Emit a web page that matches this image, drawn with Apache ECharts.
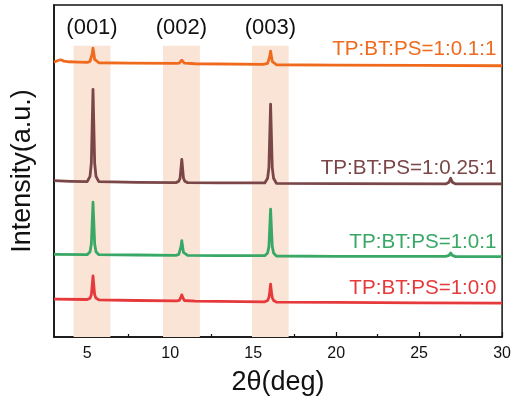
<!DOCTYPE html>
<html>
<head>
<meta charset="utf-8">
<script src="https://cdn.jsdelivr.net/npm/echarts@6/dist/echarts.min.js"></script>
<style>
  html, body { margin: 0; padding: 0; background: #fff; }
  #chart { width: 514px; height: 402px; }
</style>
</head>
<body>
<div id="chart"></div>
<script>
// XRD patterns (2θ in degrees, intensity in arbitrary offset units)
const seriesNames = ['TP:BT:PS=1:0.1:1', 'TP:BT:PS=1:0.25:1', 'TP:BT:PS=1:0:1', 'TP:BT:PS=1:0:0'];
const seriesColors = ['#f06a1e', '#7a4648', '#39a866', '#e6393c'];

const pattern01_1 = [
  [3.0, 82.8], [3.2, 83.2], [3.4, 83.5], [3.6, 83.1], [3.9, 82.9], [4.5, 82.8],
  [5.0, 82.7], [5.17, 83.0], [5.25, 83.6], [5.30, 85.3], [5.35, 87.0], [5.40, 85.3], [5.45, 83.6], [5.53, 83.0], [5.7, 82.6],
  [7.5, 82.5], [10.4, 82.4],
  [10.55, 82.5], [10.65, 83.1], [10.7, 83.4], [10.75, 83.1], [10.85, 82.5],
  [11.5, 82.3], [15.6, 82.1],
  [15.7, 82.1], [15.87, 82.4], [15.95, 83.0], [16.0, 84.5], [16.05, 86.1], [16.10, 84.5], [16.15, 83.0], [16.23, 82.4], [16.4, 82.0],
  [20, 81.9], [25, 81.8], [30, 81.7]
];

const pattern025_1 = [
  [3.0, 47.1], [4.0, 46.9], [5.0, 46.8],
  [5.17, 48.4], [5.25, 52.4], [5.30, 63.5], [5.35, 74.6], [5.40, 63.5], [5.45, 52.4], [5.53, 48.4], [5.7, 46.8],
  [8, 46.6], [10.35, 46.5],
  [10.52, 46.9], [10.6, 47.9], [10.65, 50.7], [10.7, 53.5], [10.75, 50.7], [10.8, 47.9], [10.88, 46.9], [11.05, 46.5],
  [13, 46.4], [15.7, 46.4],
  [15.87, 47.8], [15.95, 51.1], [16.0, 60.6], [16.05, 70.1], [16.1, 60.6], [16.15, 51.1], [16.23, 47.8], [16.4, 46.3],
  [20, 46.2], [26.6, 46.1], [26.8, 46.6], [26.9, 47.8], [27.0, 46.6], [27.2, 46.1], [30, 46.1]
];

const pattern0_1 = [
  [3.0, 24.9], [5.0, 24.8],
  [5.17, 25.7], [5.25, 28.0], [5.30, 34.3], [5.35, 40.6], [5.40, 34.3], [5.45, 28.0], [5.53, 25.7], [5.7, 24.8],
  [8, 24.7], [10.35, 24.6],
  [10.52, 24.9], [10.6, 25.5], [10.65, 27.2], [10.7, 29.0], [10.75, 27.2], [10.8, 25.5], [10.88, 24.9], [11.05, 24.6],
  [13, 24.5], [15.7, 24.5],
  [15.87, 25.3], [15.95, 27.3], [16.0, 32.9], [16.05, 38.5], [16.1, 32.9], [16.15, 27.3], [16.23, 25.3], [16.4, 24.4],
  [20, 24.3], [26.6, 24.3], [26.8, 24.6], [26.9, 25.3], [27.0, 24.6], [27.2, 24.2], [30, 24.2]
];

const pattern0_0 = [
  [3.0, 11.4], [5.0, 11.3],
  [5.17, 11.7], [5.25, 12.7], [5.30, 15.5], [5.35, 18.4], [5.40, 15.5], [5.45, 12.7], [5.53, 11.7], [5.7, 11.2],
  [8, 11.0], [10.4, 10.9],
  [10.55, 11.0], [10.65, 12.0], [10.7, 12.7], [10.75, 12.0], [10.85, 11.0], [11.5, 10.8],
  [15.7, 10.6],
  [15.87, 11.0], [15.95, 11.9], [16.0, 13.6], [16.05, 15.9], [16.1, 13.6], [16.15, 11.9], [16.23, 11.0], [16.4, 10.5],
  [20, 10.4], [25, 10.3], [30, 10.2]
];

const patterns = [pattern01_1, pattern025_1, pattern0_1, pattern0_0];

// Reflection bands: [from, to] in 2θ, with their Miller-index labels
const bandNames = ['(001)', '(002)', '(003)'];
const bandRanges = [[4.18, 6.4], [9.57, 11.79], [14.93, 17.14]];
const bandTop = 87.7;

// Sample labels, anchored at their right end
const labelX = 29.66;
const labelY = [86.7, 50.8, 28.5, 14.7];

const majorTicks = [5, 10, 15, 20, 25, 30];
const minorTicks = [7.5, 12.5, 17.5, 22.5, 27.5];

const FONT = '"Liberation Sans", Arial, sans-serif';

const chart = echarts.init(document.getElementById('chart'), null, { renderer: 'canvas' });

const lineSeries = patterns.map((data, i) => ({
  name: seriesNames[i],
  type: 'line',
  xAxisIndex: 0,
  data: data,
  showSymbol: false,
  symbol: 'none',
  z: 3,
  lineStyle: { color: seriesColors[i], width: 2.8, join: 'round' },
  markPoint: {
    symbol: 'circle',
    symbolSize: 0,
    silent: true,
    data: [{ coord: [labelX, labelY[i]] }],
    label: {
      show: true,
      position: 'left',
      distance: 0,
      formatter: seriesNames[i],
      color: seriesColors[i],
      fontFamily: FONT,
      fontSize: 20.6
    }
  },
  animation: false
}));

const bandSeries = {
  type: 'line',
  data: [],
  z: 1,
  silent: true,
  markArea: {
    silent: true,
    itemStyle: { color: '#fae4d6' },
    label: {
      show: true,
      position: 'top',
      distance: 7,
      color: '#111',
      fontFamily: FONT,
      fontSize: 22
    },
    data: bandRanges.map((r, i) => [
      { name: bandNames[i], xAxis: r[0], yAxis: 0 },
      { xAxis: r[1], yAxis: bandTop }
    ])
  },
  animation: false
};

chart.setOption({
  animation: false,
  backgroundColor: '#fff',
  grid: {
    left: 54, right: 11, top: 5, bottom: 65,
    show: true, borderColor: '#111', borderWidth: 1.5,
    containLabel: false
  },
  xAxis: [
    {
      type: 'value',
      min: 3, max: 30,
      position: 'bottom',
      name: '2θ(deg)',
      nameLocation: 'middle',
      nameGap: 32,
      nameTextStyle: { fontFamily: FONT, fontSize: 27, color: '#111' },
      axisLine: { show: true, onZero: false, lineStyle: { color: '#111', width: 1.5 } },
      axisTick: { show: true, inside: true, length: 5, customValues: majorTicks, lineStyle: { color: '#111', width: 1.2 } },
      axisLabel: { show: true, customValues: majorTicks, margin: 9, fontFamily: FONT, fontSize: 16, color: '#111' },
      splitLine: { show: false }
    },
    {
      type: 'value',
      min: 3, max: 30,
      position: 'bottom',
      axisLine: { show: false },
      axisTick: { show: true, inside: true, length: 3, customValues: minorTicks, lineStyle: { color: '#111', width: 1.2 } },
      axisLabel: { show: false },
      splitLine: { show: false }
    }
  ],
  yAxis: {
    type: 'value',
    min: 0, max: 100,
    name: 'Intensity(a.u.)',
    nameLocation: 'middle',
    nameGap: 18,
    nameTextStyle: { fontFamily: FONT, fontSize: 27, color: '#111' },
    axisLine: { show: true, lineStyle: { color: '#111', width: 1.5 } },
    axisTick: { show: false },
    axisLabel: { show: false },
    splitLine: { show: false }
  },
  series: [bandSeries].concat(lineSeries)
});
</script>
</body>
</html>
